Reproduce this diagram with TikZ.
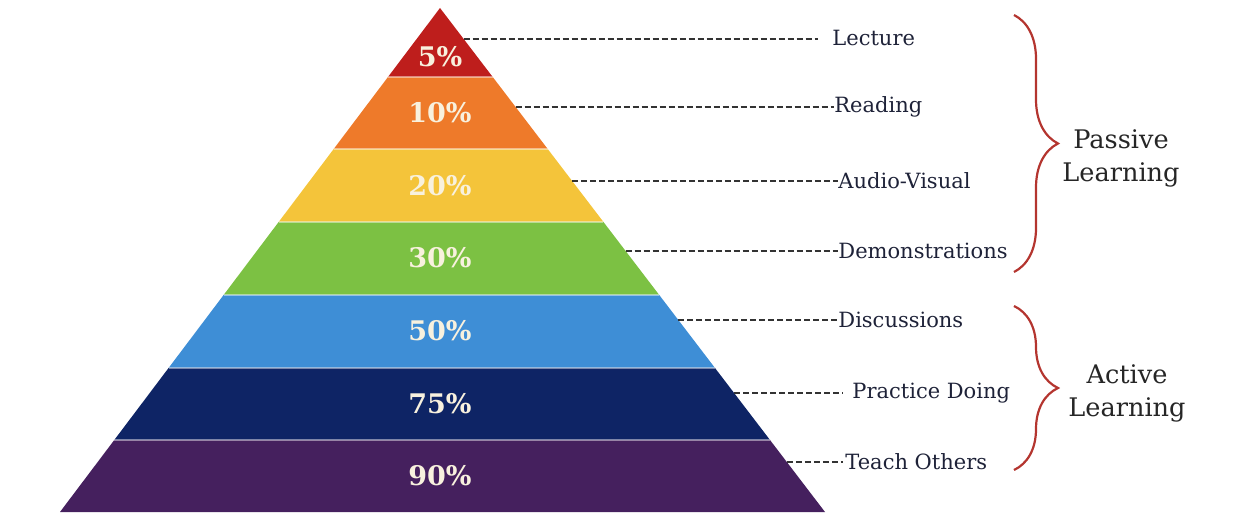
\documentclass[tikz,border=0pt]{standalone}
\usepackage{fontspec}
\setmainfont{DejaVu Serif}
\usetikzlibrary{calc,positioning,decorations.pathreplacing}

\definecolor{layRed}{HTML}{BE1E1C}
\definecolor{layOrange}{HTML}{EE7A2A}
\definecolor{layYellow}{HTML}{F4C43A}
\definecolor{layGreen}{HTML}{7CC143}
\definecolor{laySky}{HTML}{3E8ED6}
\definecolor{layNavy}{HTML}{0E2465}
\definecolor{layPurple}{HTML}{45205E}
\definecolor{braceRed}{HTML}{B4352F}
\definecolor{labelInk}{HTML}{1E2238}
\definecolor{pctInk}{HTML}{F8F1DE}

\tikzset{
  pct/.style={text=pctInk, font=\bfseries\fontsize{13.5}{13.5}\selectfont},
  lbl/.style={anchor=west, inner sep=0pt, text=labelInk, font=\fontsize{10.5}{10.5}\selectfont},
  lead/.style={draw=black!80, line width=0.75pt, dash pattern=on 3pt off 1.5pt},
  sep/.style={draw=white, opacity=0.45, line width=1pt},
  bracket/.style={draw=braceRed, line width=1.1pt, decorate, decoration={brace, amplitude=22pt}},
  group/.style={align=center, text=black!85, font=\fontsize{12.8}{16.5}\selectfont}
}

\begin{document}
\begin{tikzpicture}[x=0.5pt,y=-0.5pt]
  \useasboundingbox (0,0) rectangle (1236,518);
  \coordinate (apex) at (440,8);
  \coordinate (bl) at (60,512);
  \coordinate (br) at (825,512);
  % pyramid layers
  \foreach \ya/\yb/\col in {8/77/layRed,77/149/layOrange,149/222/layYellow,222/295/layGreen,
                            295/368/laySky,368/440/layNavy,440/512/layPurple}{
    \pgfmathsetmacro\ta{(\ya-8)/504}
    \pgfmathsetmacro\tb{(\yb-8)/504}
    \fill[\col] ($(apex)!\ta!(bl)$) -- ($(apex)!\tb!(bl)$) -- ($(apex)!\tb!(br)$) -- ($(apex)!\ta!(br)$) -- cycle;
  }
  \foreach \yb in {77,149,222,295,368,440}{
    \pgfmathsetmacro\tb{(\yb-8)/504}
    \draw[sep] ($(apex)!\tb!(bl)$) -- ($(apex)!\tb!(br)$);
  }
  % percentages
  \node[pct] (p5)  at (440,57)  {5\%};
  \node[pct] (p10) at (440,113) {10\%};
  \node[pct] (p20) at (440,186) {20\%};
  \node[pct] (p30) at (440,258) {30\%};
  \node[pct] (p50) at (440,331) {50\%};
  \node[pct] (p75) at (440,404) {75\%};
  \node[pct] (p90) at (440,476) {90\%};
  % labels
  \node[lbl] (lecture) at (832,38)  {Lecture};
  \node[lbl] (reading) at (834,107) {Reading};
  \node[lbl] (audio)   at (838,181) {Audio-Visual};
  \node[lbl] (demo)    at (838,251) {Demonstrations};
  \node[lbl] (discuss) at (838,320) {Discussions};
  \node[lbl] (practice) at (852,393) {Practice Doing};
  \node[lbl] (teach)   at (845,462) {Teach Others};
  % leader lines
  \foreach \y/\n/\gap in {39/lecture/7,107/reading/0,181/audio/0,251/demo/0,
                          320/discuss/0,393/practice/4.5,462/teach/1}{
    \pgfmathsetmacro\t{(\y-8)/504}
    \coordinate (e-\n) at ($(apex)!\t!(br)$);
    \draw[lead,shorten >=\gap pt] (e-\n) -- (e-\n -| \n.west);
  }
  % braces
  \draw[bracket] (1014,15) -- (1014,272);
  \draw[bracket] (1014,306) -- (1014,470);
  \node[group] (passive) at (1121,158) {Passive\\Learning};
  \node[group] (active)  at (1127,393) {Active\\Learning};
\end{tikzpicture}
\end{document}
